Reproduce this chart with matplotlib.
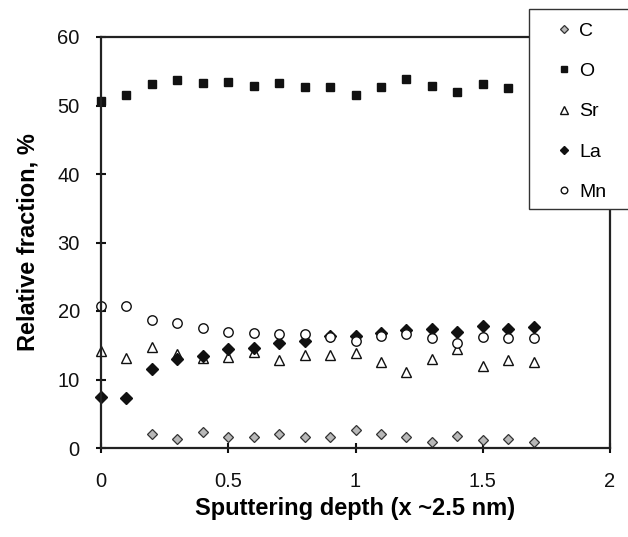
import matplotlib
matplotlib.use("Agg")
from matplotlib import pyplot as plt
from matplotlib.patches import Rectangle

plt.rcParams['font.family'] = ['Liberation Sans', 'DejaVu Sans']

# 溅射深度 (x ~2.5 nm)
depth = [0.0, 0.1, 0.2, 0.3, 0.4, 0.5, 0.6, 0.7, 0.8, 0.9,
         1.0, 1.1, 1.2, 1.3, 1.4, 1.5, 1.6, 1.7]
depth_c = depth[2:]

c_vals = [2.0, 1.3, 2.4, 1.6, 1.6, 2.0, 1.6, 1.6, 2.6, 2.0, 1.6, 0.9, 1.8, 1.1, 1.3, 0.9]
o_vals = [50.6, 51.6, 53.1, 53.7, 53.3, 53.5, 52.9, 53.3, 52.7, 52.7,
          51.6, 52.7, 53.8, 52.9, 51.9, 53.2, 52.5, 52.8]
sr_vals = [14.1, 13.2, 14.7, 13.7, 13.2, 13.3, 14.0, 12.8, 13.6, 13.6,
           13.9, 12.6, 11.1, 13.0, 14.5, 12.0, 12.8, 12.6]
la_vals = [7.4, 7.3, 11.5, 13.0, 13.4, 14.4, 14.6, 15.4, 15.6, 16.3,
           16.4, 16.8, 17.2, 17.4, 17.0, 17.8, 17.4, 17.6]
mn_vals = [20.7, 20.7, 18.7, 18.3, 17.5, 17.0, 16.8, 16.6, 16.6, 16.2,
           15.6, 16.3, 16.6, 16.0, 15.4, 16.2, 16.0, 16.0]

x_ticks = [0, 0.5, 1, 1.5, 2]
x_labels = ['0', '0.5', '1', '1.5', '2']
y_ticks = [0, 10, 20, 30, 40, 50, 60]

W, H = 628, 537
fig = plt.figure(figsize=(W / 100, H / 100), dpi=100, facecolor='w')
ax = fig.add_axes([101 / W, 1 - 448 / H, (610 - 101) / W, (448 - 37) / H])

ax.plot(depth_c, c_vals, 'D', ms=5.2, mfc='#b8b8b8', mec='#333333', mew=0.9, label='C', clip_on=False)
ax.plot(depth, o_vals, 's', ms=6.3, mfc='#111111', mec='#111111', label='O', clip_on=False)
ax.plot(depth, sr_vals, '^', ms=7.5, mfc='white', mec='#111111', mew=1.0, label='Sr', clip_on=False)
ax.plot(depth, la_vals, 'D', ms=6.5, mfc='#111111', mec='#111111', label='La', clip_on=False)
ax.plot(depth, mn_vals, 'o', ms=6.8, mfc='white', mec='#111111', mew=1.0, label='Mn', clip_on=False)

ax.set_xlim(0, 2)
ax.set_ylim(0, 60)
ax.set_xticks(x_ticks)
ax.set_xticklabels(x_labels)
ax.set_yticks(y_ticks)
ax.tick_params(direction='inout', length=6.5, width=1.5, labelsize=14.5, colors='#111111')
ax.tick_params(axis='x', pad=14)
ax.tick_params(axis='y', pad=12)
for sp in ax.spines.values():
    sp.set_linewidth(1.6)
    sp.set_color('#222222')

ax.set_xlabel('Sputtering depth (x ~2.5 nm)', fontsize=17, fontweight='bold', labelpad=4)
ax.set_ylabel('Relative fraction, %', fontsize=17, fontweight='bold', labelpad=13)

# 图例框
box = Rectangle((529 / W, 1 - 209 / H), 120 / W, 200 / H, transform=fig.transFigure,
                facecolor='white', edgecolor='#333333', linewidth=1.0, zorder=10)
fig.patches.append(box)
handles, labels = ax.get_legend_handles_labels()
leg = fig.legend(handles, labels, loc='upper left', bbox_to_anchor=(555 / W, 1 - 22 / H),
                 frameon=False, fontsize=14, markerscale=0.7, handlelength=0.9,
                 handletextpad=0.35, labelspacing=1.17, borderaxespad=0, borderpad=0)
leg.set_zorder(11)

fig.savefig('out.png', dpi=100)
